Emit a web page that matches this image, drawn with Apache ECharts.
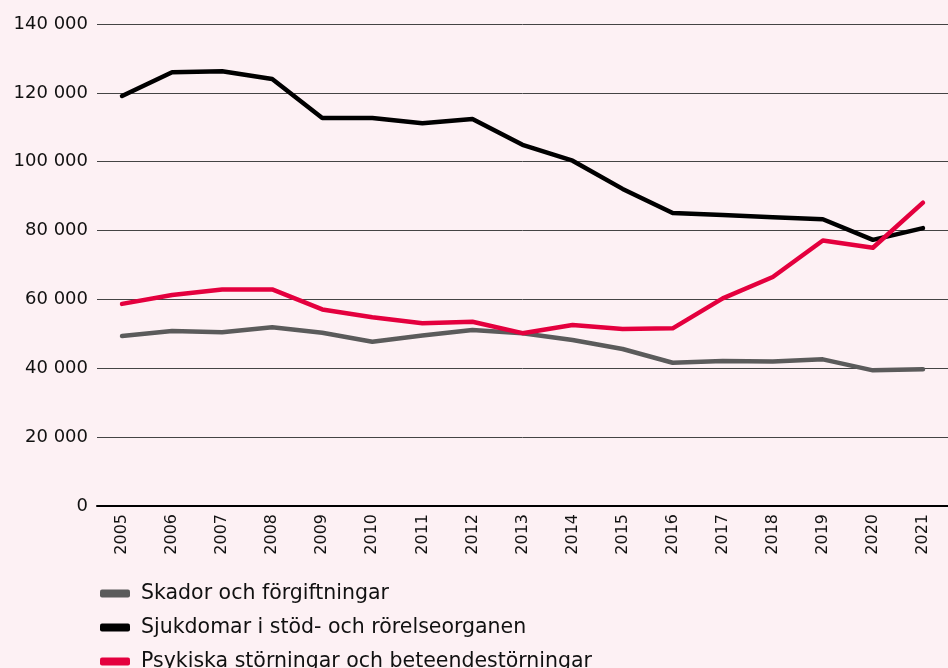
<!DOCTYPE html>
<html>
<head>
<meta charset="utf-8">
<script src="https://cdn.jsdelivr.net/npm/echarts@6/dist/echarts.min.js"></script>
<style>
  html, body { margin: 0; padding: 0; background: #fdf1f4; }
  #chart { width: 948px; height: 668px; }
</style>
</head>
<body>
<div id="chart"></div>
<script>
const years = ['2005', '2006', '2007', '2008', '2009', '2010', '2011', '2012', '2013',
  '2014', '2015', '2016', '2017', '2018', '2019', '2020', '2021'];

const skador = [49400, 50800, 50500, 51900, 50300, 47700, 49500, 51100, 50200,
  48200, 45600, 41600, 42100, 42000, 42600, 39400, 39700];

const sjukdomar = [119100, 126000, 126300, 124000, 112700, 112700, 111200, 112400, 104900,
  100300, 92100, 85100, 84500, 83900, 83300, 77300, 80700];

const psykiska = [58700, 61300, 62900, 62900, 57100, 54800, 53100, 53500, 50200,
  52600, 51400, 51600, 60300, 66500, 77100, 75000, 88100];

const names = ['Skador och förgiftningar', 'Sjukdomar i stöd- och rörelseorganen', 'Psykiska störningar och beteendestörningar'];
const colors = ['#5b5b5b', '#000000', '#e4003e'];

const fontFamily = '"DejaVu Sans", sans-serif';

const chart = echarts.init(document.getElementById('chart'));

const makeSeries = (name, data, color) => ({
  name: name,
  type: 'line',
  data: data,
  symbol: 'none',
  color: color,
  lineStyle: { color: color, width: 4.5, cap: 'round', join: 'round' },
  itemStyle: { color: color }
});

chart.setOption({
  backgroundColor: '#fdf1f4',
  animation: false,
  grid: { left: 97, right: 0, top: 24, bottom: 162, containLabel: false },
  legend: {
    orient: 'vertical',
    left: 100,
    top: 583,
    height: 140,
    padding: 0,
    icon: 'roundRect',
    itemWidth: 30,
    itemHeight: 8,
    itemGap: 13,
    textStyle: { fontFamily: fontFamily, fontSize: 20.5, color: '#111', padding: [0, 0, 0, 6] },
    data: names
  },
  xAxis: {
    type: 'category',
    data: years,
    boundaryGap: true,
    axisLine: { lineStyle: { color: '#000', width: 2 } },
    axisTick: { show: false },
    axisLabel: {
      rotate: 90,
      margin: 8,
      fontFamily: fontFamily,
      fontSize: 16,
      color: '#111'
    }
  },
  yAxis: {
    type: 'value',
    min: 0,
    max: 140000,
    interval: 20000,
    axisLine: { show: false },
    axisTick: { show: false },
    splitLine: { lineStyle: { color: '#444', width: 1 } },
    axisLabel: {
      margin: 9,
      fontFamily: fontFamily,
      fontSize: 18,
      color: '#111',
      formatter: v => String(v).replace(/\B(?=(\d{3})+(?!\d))/g, ' ')
    }
  },
  series: [
    makeSeries(names[0], skador, colors[0]),
    makeSeries(names[1], sjukdomar, colors[1]),
    makeSeries(names[2], psykiska, colors[2])
  ]
});
</script>
</body>
</html>
